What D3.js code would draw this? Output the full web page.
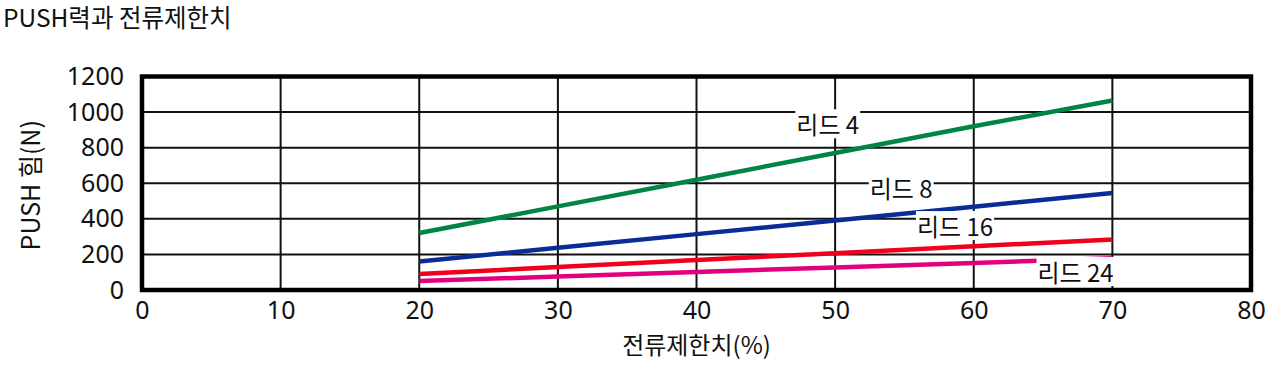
<!DOCTYPE html>
<html><head><meta charset="utf-8">
<script src="https://cdn.jsdelivr.net/npm/d3@7"></script>
<style>
html,body{margin:0;padding:0;background:#fff;}
svg{display:block;font-family:"Noto Sans CJK KR","Noto Sans",sans-serif;}
</style></head>
<body>
<svg id="c" width="1280" height="368"></svg>
<script>
const currentPct = [20, 30, 40, 50, 60, 70];
const lead4 = [320, 470, 620, 770, 920, 1065];
const lead8 = [160, 237, 314, 391, 468, 545];
const lead16 = [90, 129, 168, 207, 246, 284];
const lead24 = [50, 76, 101, 127, 152, 178];
const seriesNames = ["리드 4", "리드 8", "리드 16", "리드 24"];
const seriesColors = ["#008542", "#0a2c96", "#f0001c", "#e2007f"];
const xTicks = [0, 10, 20, 30, 40, 50, 60, 70, 80];
const yTicks = [0, 200, 400, 600, 800, 1000, 1200];
const labelAt = [[47.2, 875], [52.5, 516], [55.9, 303], [64.6, 45]];

const svg = d3.select("#c");
const L = 142, R = 1251, T = 76.5, B = 290;
const x = d3.scaleLinear().domain([0, 80]).range([L, R]);
const y = d3.scaleLinear().domain([0, 1200]).range([B, T]);

// grid
const g = svg.append("g");
g.selectAll(".vx").data(xTicks).join("line")
  .attr("x1", d => x(d)).attr("x2", d => x(d)).attr("y1", T).attr("y2", B)
  .attr("stroke", "#111").attr("stroke-width", 2);
g.selectAll(".hy").data(yTicks).join("line")
  .attr("x1", L).attr("x2", R).attr("y1", d => y(d)).attr("y2", d => y(d))
  .attr("stroke", "#111").attr("stroke-width", 2);

// axes labels via d3 axes
const xAxis = svg.append("g").attr("transform", `translate(0,${B})`)
  .call(d3.axisBottom(x).tickValues(xTicks).tickSize(0).tickPadding(11).tickFormat(d3.format("d")));
const yAxis = svg.append("g").attr("transform", `translate(${L},0)`)
  .call(d3.axisLeft(y).tickValues(yTicks).tickSize(0).tickPadding(18).tickFormat(d3.format("d")));
[xAxis, yAxis].forEach(a => {
  a.select(".domain").remove();
  a.selectAll("text").attr("font-size", 25).attr("fill", "#111")
    .attr("font-family", '"Noto Sans","Noto Sans CJK KR",sans-serif');
});

// lines
const allSeries = [lead4, lead8, lead16, lead24];
const line = d3.line().x((d, i) => x(currentPct[i])).y(d => y(d));
allSeries.forEach((s, k) => {
  svg.append("path").datum(s).attr("d", line)
    .attr("fill", "none").attr("stroke", seriesColors[k]).attr("stroke-width", 4.5);
});

// labels
seriesNames.forEach((n, k) => {
  const gg = svg.append("g");
  const t = gg.append("text").attr("x", x(labelAt[k][0])).attr("y", y(labelAt[k][1]))
    .attr("font-size", 24).attr("fill", "#111").text(n);
  const bb = t.node().getBBox();
  gg.insert("rect", "text").attr("x", bb.x - 1).attr("y", bb.y + 3)
    .attr("width", bb.width + 2).attr("height", bb.height - 6).attr("fill", "#fff");
});

// frame
svg.append("rect").attr("x", L).attr("y", T).attr("width", R - L).attr("height", B - T)
  .attr("fill", "none").attr("stroke", "#000").attr("stroke-width", 4.5);

// titles
svg.append("text").attr("x", 3).attr("y", 27).attr("font-size", 24.5).attr("fill", "#111")
  .text("PUSH력과 전류제한치");
svg.append("text").attr("transform", `translate(40,${(T + B) / 2 + 2}) rotate(-90)`)
  .attr("text-anchor", "middle").attr("font-size", 25).attr("fill", "#111")
  .text("PUSH 힘(N)");
svg.append("text").attr("x", x(40)).attr("y", 354).attr("text-anchor", "middle")
  .attr("font-size", 24).attr("fill", "#111").text("전류제한치(%)");
</script>
</body></html>
